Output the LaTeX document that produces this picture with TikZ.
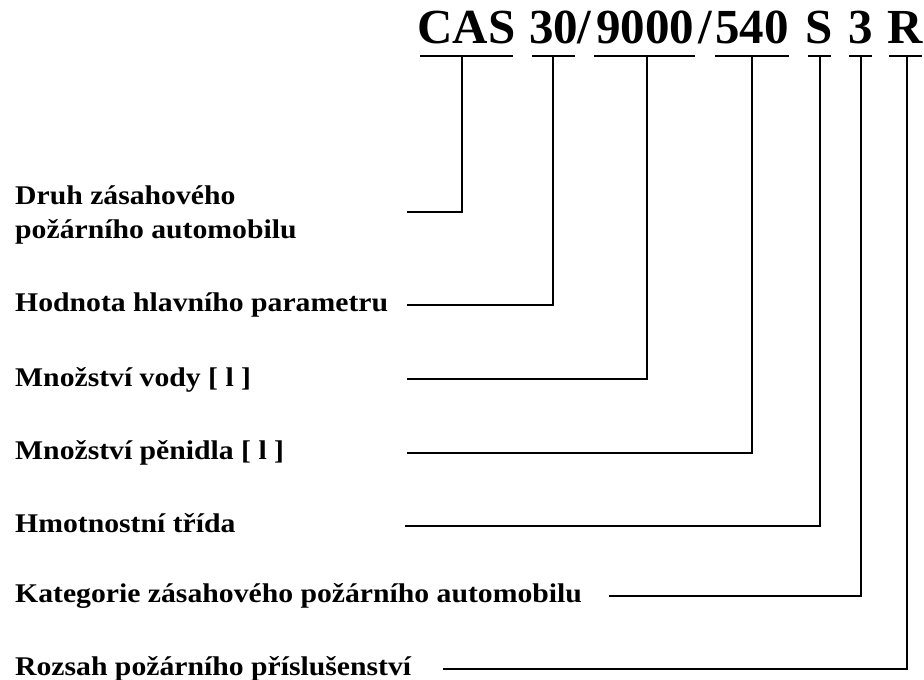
\documentclass[tikz,border=0pt]{standalone}
\usepackage{fontspec}
\newfontfamily\titlefont{Liberation Serif}
\newfontfamily\labfont{Liberation Serif}[FakeStretch=1.1]
\begin{document}
\begin{tikzpicture}[x=1pt,y=-1pt,
  lab/.style={font=\labfont\bfseries\fontsize{27pt}{30pt}\selectfont, anchor=base west, inner sep=0pt},
  ttl/.style={font=\titlefont\bfseries\fontsize{49pt}{55pt}\selectfont, anchor=base, inner sep=0pt},
  conn/.style={draw=black, line width=1.8pt},
  uline/.style={draw=black, line width=1.8pt}]
\useasboundingbox (0,0) rectangle (924,680);

% title parts
\node[ttl] (cas)   at (466.5,43) {CAS};
\node[ttl] (n30)   at (553.5,43) {30};
\node[ttl] (sl1)   at (584.5,43) {/};
\node[ttl] (n9000) at (645,43)   {9000};
\node[ttl] (sl2)   at (705,43)   {/};
\node[ttl] (n540)  at (752,43)   {540};
\node[ttl] (s)     at (819.5,43) {S};
\node[ttl] (three) at (860.5,43) {3};
\node[ttl] (r)     at (905.5,43) {R};

% underlines
\draw[uline] (420,56) -- (513,56);
\draw[uline] (532,56) -- (575,56);
\draw[uline] (594,56) -- (695,56);
\draw[uline] (715,56) -- (789,56);
\draw[uline] (808,56) -- (831,56);
\draw[uline] (849,56) -- (872,56);
\draw[uline] (889,56) -- (922,56);

% connector start points on the underlines
\coordinate (u1) at (462,56);
\coordinate (u2) at (553,56);
\coordinate (u3) at (647,56);
\coordinate (u4) at (752,56);
\coordinate (u5) at (820,56);
\coordinate (u6) at (861,56);
\coordinate (u7) at (907,56);

% labels
\node[lab] (l1a) at (15,204) {Druh zásahového};
\node[lab] (l1b) at (15,238) {požárního automobilu};
\node[lab] (l2)  at (15,311) {Hodnota hlavního parametru};
\node[lab] (l3)  at (15,386) {Množství vody [ l ]};
\node[lab] (l4)  at (15,459) {Množství pěnidla [ l ]};
\node[lab] (l5)  at (15,532) {Hmotnostní třída};
\node[lab] (l6)  at (15,602) {Kategorie zásahového požárního automobilu};
\node[lab] (l7)  at (15,675) {Rozsah požárního příslušenství};

% connector end points
\coordinate (e1) at (407,212);
\coordinate (e2) at (407,305);
\coordinate (e3) at (407,379);
\coordinate (e4) at (407,453);
\coordinate (e5) at (405,526);
\coordinate (e6) at (609,596);
\coordinate (e7) at (443,669);

\draw[conn] (u1) |- (e1);
\draw[conn] (u2) |- (e2);
\draw[conn] (u3) |- (e3);
\draw[conn] (u4) |- (e4);
\draw[conn] (u5) |- (e5);
\draw[conn] (u6) |- (e6);
\draw[conn] (u7) |- (e7);
\end{tikzpicture}
\end{document}
